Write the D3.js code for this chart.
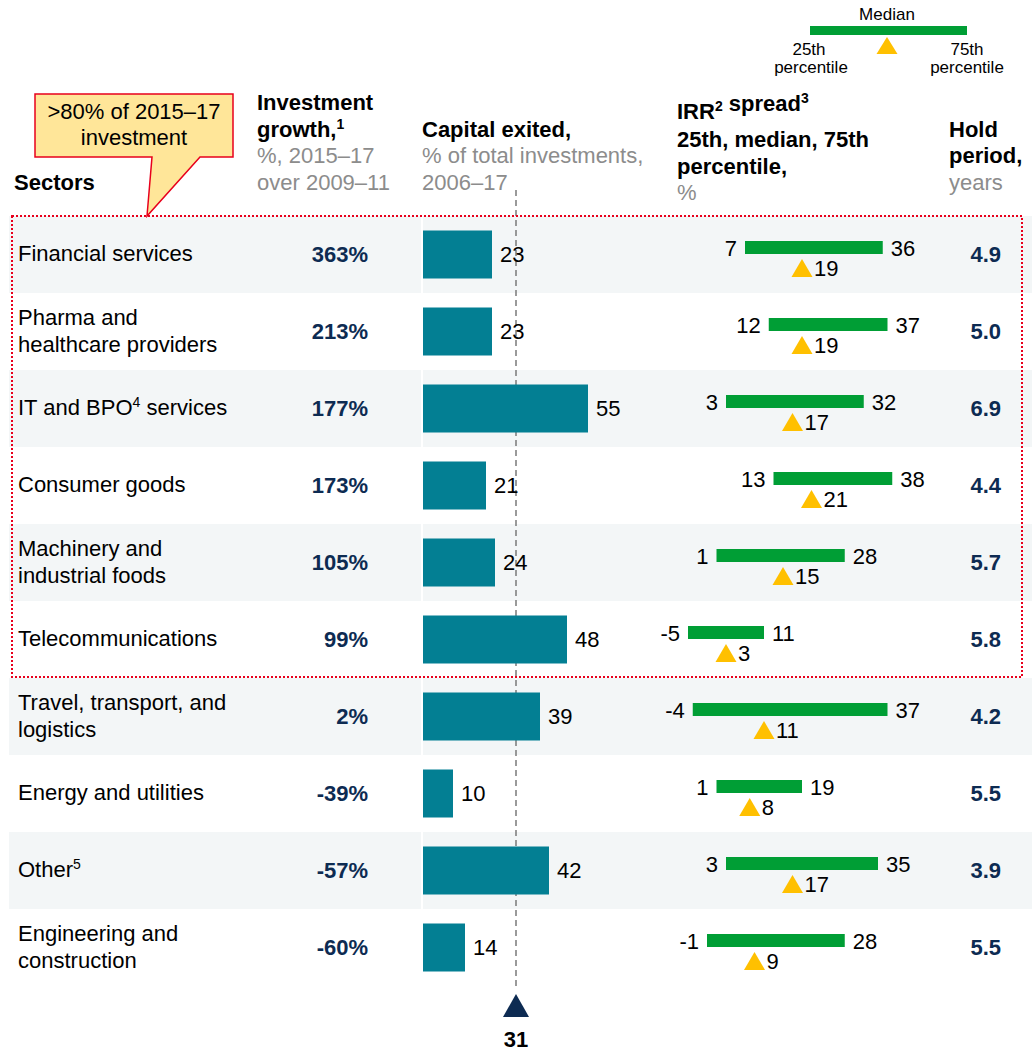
<!DOCTYPE html>
<html>
<head>
<meta charset="utf-8">
<script src="https://cdn.jsdelivr.net/npm/d3@7"></script>
<style>
  html, body { margin: 0; padding: 0; background: #fff; }
  svg { display: block; font-family: "Liberation Sans", Arial, sans-serif; }
</style>
</head>
<body>
<svg id="chart" width="1032" height="1051"></svg>
<script>
// ---------- DATA ----------
const sectors = [
  "Financial services",
  "Pharma and|healthcare providers",
  "IT and BPO^4 services",
  "Consumer goods",
  "Machinery and|industrial foods",
  "Telecommunications",
  "Travel, transport, and|logistics",
  "Energy and utilities",
  "Other^5",
  "Engineering and|construction"
];
const investmentGrowth = [363, 213, 177, 173, 105, 99, 2, -39, -57, -60];
const capitalExited = [23, 23, 55, 21, 24, 48, 39, 10, 42, 14];
const capitalMedian = 31;
const irr25 = [7, 12, 3, 13, 1, -5, -4, 1, 3, -1];
const irrMedian = [19, 19, 17, 21, 15, 3, 11, 8, 17, 9];
const irr75 = [36, 37, 32, 38, 28, 11, 37, 19, 35, 28];
const holdPeriod = ["4.9", "5.0", "6.9", "4.4", "5.7", "5.8", "4.2", "5.5", "3.9", "5.5"];
const highlightedCount = 6;
const calloutText = [">80% of 2015\u201317", "investment"];

// ---------- STYLE ----------
const C = {
  teal: "#037f93", green: "#009e35", yellow: "#ffc000", navy: "#0d2b52",
  band: "#f3f6f7", gray: "#8c8c8c", red: "#e8001c", callout: "#ffe699",
  dash: "#7a7a7a", text: "#000"
};
const FS = 22;

const svg = d3.select("#chart");

// ---------- SCALES ----------
const y = d3.scaleBand().domain(d3.range(sectors.length)).range([216, 986]).paddingInner(0);
const xCap = d3.scaleLinear().domain([0, 55]).range([423, 588]);
const xIrr = d3.scaleLinear().domain([-5, 37]).range([688, 887.5]);
const cy = i => y(i) + y.bandwidth() / 2;

// ---------- ROW BANDS ----------
const shaded = d3.range(sectors.length).filter(i => i % 2 === 0);
svg.append("g").selectAll("rect").data(shaded).join("rect")
  .attr("x", 9).attr("y", i => y(i)).attr("width", 412).attr("height", y.bandwidth())
  .attr("fill", C.band);
svg.append("g").selectAll("rect").data(shaded).join("rect")
  .attr("x", 423).attr("y", i => y(i)).attr("width", 1032 - 423).attr("height", y.bandwidth())
  .attr("fill", C.band);

// helper for text with superscripts marked as ^n
function richText(sel, str, supSize) {
  const parts = str.split(/\^(\d)/);
  parts.forEach((p, k) => {
    if (k % 2 === 1) {
      sel.append("tspan").attr("dy", -8).attr("font-size", supSize || 14).text(p);
      sel.append("tspan").attr("dy", 8).text("");
    } else if (p !== "") {
      sel.append("tspan").text(p);
    }
  });
}

// ---------- HEADERS ----------
function header(x, lines) {
  lines.forEach(([txt, yy, bold]) => {
    const t = svg.append("text").attr("x", x).attr("y", yy)
      .attr("font-size", FS)
      .attr("font-weight", bold ? "bold" : "normal")
      .attr("fill", bold ? C.text : C.gray);
    richText(t, txt, 14);
  });
}
header(14, [["Sectors", 190, true]]);
header(257, [["Investment", 110, true], ["growth,^1", 137, true], ["%, 2015\u201317", 163, false], ["over 2009\u201311", 190, false]]);
header(422, [["Capital exited,", 137, true], ["% of total investments,", 163, false], ["2006\u201317", 190, false]]);
header(677, [["IRR^2 spread^3", 119, true], ["25th, median, 75th", 147, true], ["percentile,", 174, true], ["%", 200, false]]);
header(949, [["Hold", 137, true], ["period,", 163, true], ["years", 190, false]]);

// ---------- LEGEND ----------
const lg = svg.append("g");
const legendScale = d3.scaleLinear().domain([0, 1]).range([810, 967]);
lg.append("rect").attr("x", legendScale(0)).attr("y", 26).attr("width", legendScale(1) - legendScale(0)).attr("height", 9).attr("fill", C.green);
lg.append("path")
  .attr("d", `M${887 - 10.5},54 L887,37 L${887 + 10.5},54 Z`).attr("fill", C.yellow);
lg.append("text").attr("x", 887).attr("y", 20).attr("text-anchor", "middle").attr("font-size", 17).text("Median");
[["25th", 809, 55], ["percentile", 811, 73], ["75th", 967, 55], ["percentile", 967, 73]].forEach(([t, xx, yy]) => {
  lg.append("text").attr("x", xx).attr("y", yy).attr("text-anchor", "middle").attr("font-size", 17).text(t);
});

// ---------- SECTOR LABELS ----------
svg.append("g").selectAll("text").data(sectors).join("text")
  .attr("font-size", FS).attr("fill", C.text)
  .each(function (s, i) {
    const lines = s.split("|");
    const t = d3.select(this);
    const base = cy(i) + 6.5 - (lines.length - 1) * 13.5;
    lines.forEach((ln, k) => {
      const parts = ln.split(/\^(\d)/);
      t.append("tspan").attr("x", 18).attr("y", base + k * 27).text(parts[0]);
      for (let m = 1; m < parts.length; m += 2) {
        t.append("tspan").attr("dy", -8).attr("font-size", 14).text(parts[m]);
        t.append("tspan").attr("dy", 8).text(parts[m + 1] || "");
      }
    });
  });

// ---------- INVESTMENT GROWTH ----------
svg.append("g").selectAll("text").data(investmentGrowth).join("text")
  .attr("x", 368).attr("y", (d, i) => cy(i) + 7)
  .attr("text-anchor", "end").attr("font-size", FS).attr("font-weight", "bold").attr("fill", C.navy)
  .text(d => d + "%");

// ---------- CAPITAL EXITED ----------
svg.append("line").attr("x1", xCap(capitalMedian)).attr("x2", xCap(capitalMedian))
  .attr("y1", 190).attr("y2", 986).attr("stroke", C.dash).attr("stroke-width", 1.5).attr("stroke-dasharray", "6,4");

svg.append("g").selectAll("rect").data(capitalExited).join("rect")
  .attr("x", xCap(0)).attr("y", (d, i) => cy(i) - 24)
  .attr("width", d => xCap(d) - xCap(0)).attr("height", 48).attr("fill", C.teal);
svg.append("g").selectAll("text").data(capitalExited).join("text")
  .attr("x", d => xCap(d) + 8).attr("y", (d, i) => cy(i) + 7)
  .attr("font-size", FS).attr("fill", C.text).text(d => d);

const mx = xCap(capitalMedian);
svg.append("path").attr("d", `M${mx - 13},1017 L${mx},994 L${mx + 13},1017 Z`).attr("fill", C.navy);
svg.append("text").attr("x", mx).attr("y", 1047).attr("text-anchor", "middle")
  .attr("font-size", FS).attr("font-weight", "bold").attr("fill", C.text).text(capitalMedian);

// ---------- IRR SPREAD ----------
const irrG = svg.append("g");
d3.range(sectors.length).forEach(i => {
  const c = cy(i);
  irrG.append("rect").attr("x", xIrr(irr25[i])).attr("y", c - 13.5)
    .attr("width", xIrr(irr75[i]) - xIrr(irr25[i])).attr("height", 13).attr("fill", C.green);
  irrG.append("text").attr("x", xIrr(irr25[i]) - 8).attr("y", c + 1).attr("text-anchor", "end")
    .attr("font-size", FS).attr("fill", C.text).text(irr25[i]);
  irrG.append("text").attr("x", xIrr(irr75[i]) + 8).attr("y", c + 1)
    .attr("font-size", FS).attr("fill", C.text).text(irr75[i]);
  const m = xIrr(irrMedian[i]);
  irrG.append("path").attr("d", `M${m - 10.5},${c + 22.5} L${m},${c + 4.5} L${m + 10.5},${c + 22.5} Z`).attr("fill", C.yellow);
  irrG.append("text").attr("x", m + 12).attr("y", c + 21.5).attr("font-size", FS).attr("fill", C.text).text(irrMedian[i]);
});

// ---------- HOLD PERIOD ----------
svg.append("g").selectAll("text").data(holdPeriod).join("text")
  .attr("x", 1001).attr("y", (d, i) => cy(i) + 7.5)
  .attr("text-anchor", "end").attr("font-size", FS).attr("font-weight", "bold").attr("fill", C.navy)
  .text(d => d);

// ---------- HIGHLIGHT BOX ----------
const boxTop = y(0), boxBottom = y(highlightedCount - 1) + y.bandwidth() - 1;
svg.append("rect").attr("x", 12).attr("y", boxTop).attr("width", 1022 - 12).attr("height", boxBottom - boxTop)
  .attr("fill", "none").attr("stroke", C.red).attr("stroke-width", 2).attr("stroke-dasharray", "2,2");

// ---------- CALLOUT ----------
svg.append("path")
  .attr("d", `M35,94 L233,94 L233,157 L200,157 L147,${boxTop} L152,157 L35,157 Z`)
  .attr("fill", C.callout).attr("stroke", C.red).attr("stroke-width", 1.5);
calloutText.forEach((t, k) => {
  svg.append("text").attr("x", 134).attr("y", 119 + k * 26).attr("text-anchor", "middle")
    .attr("font-size", FS).attr("fill", C.text).text(t);
});
</script>
</body>
</html>
